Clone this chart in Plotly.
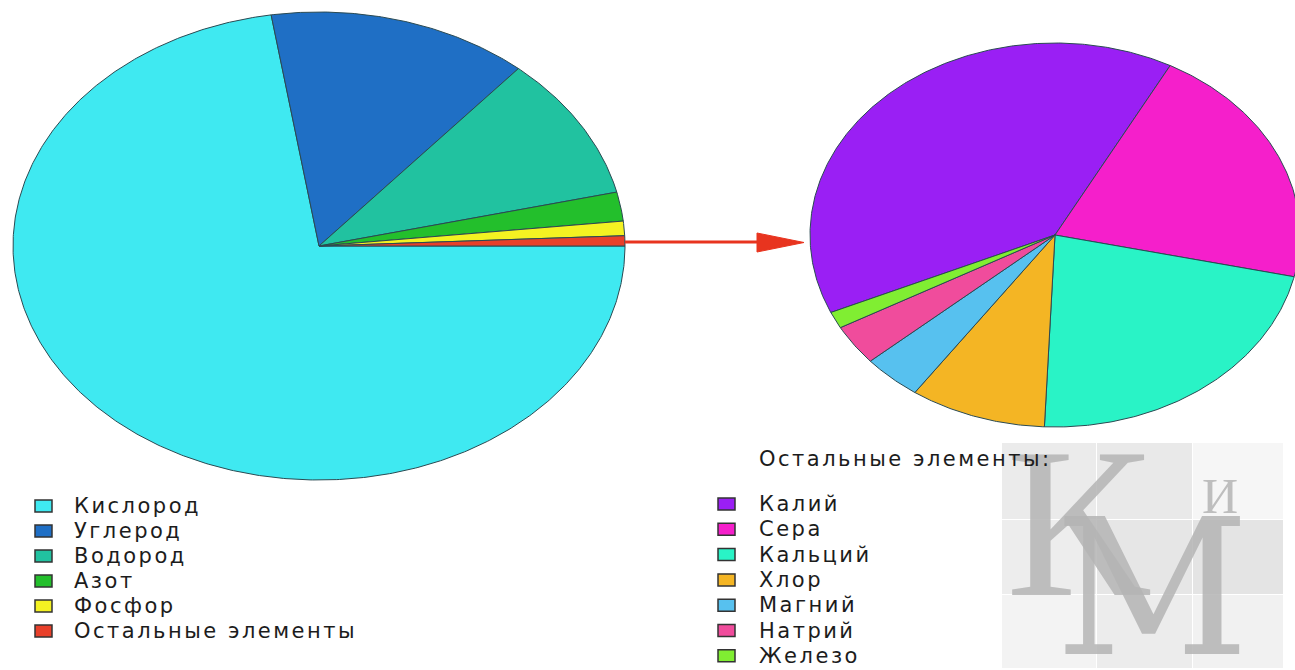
import numpy as np
import plotly.graph_objects as go

# ---------------- data ----------------
main_names = ["Кислород", "Углерод", "Водород", "Азот", "Фосфор", "Остальные элементы"]
main_values = [72.5, 13.8, 10.0, 2.0, 1.0, 0.7]
main_colors = ["#3FE9F1", "#1F6FC5", "#21C2A0", "#23BF2C", "#F4F222", "#E8402A"]

rest_title = "Остальные элементы:"
rest_names = ["Калий", "Сера", "Кальций", "Хлор", "Магний", "Натрий", "Железо"]
rest_values = [39.4, 20.7, 22.2, 9.0, 3.9, 3.4, 1.4]
rest_colors = ["#9A1FF4", "#F51FCB", "#29F3C6", "#F4B524", "#57C1EF", "#F04C9C", "#80EE32"]

# ---------------- layout constants ----------------
W, H = 1295, 670
LEFT_PIE = dict(cx=319, cy=246, rx=306, ry=234, start=0.0)
RIGHT_PIE = dict(cx=1055, cy=235, rx=245, ry=192, start=203.8)
EDGE = "#2A4A52"
FONT = "DejaVu Sans"
TXT = "#1C1C1C"
TXT_SIZE = 21
SPACING = "letter-spacing:2.5px"

fig = go.Figure()


def add_pie(names, values, colors, p):
    vals = np.asarray(values, dtype=float)
    fr = vals / vals.sum()
    ang = p["start"]
    for name, f, c, v in zip(names, fr, colors, vals):
        a0, a1 = ang, ang - f * 360.0  # clockwise
        n = max(4, int(abs(a1 - a0) * 2))
        t = np.radians(np.linspace(a0, a1, n))
        xs = np.concatenate([[p["cx"]], p["cx"] + p["rx"] * np.cos(t), [p["cx"]]])
        ys = np.concatenate([[p["cy"]], p["cy"] - p["ry"] * np.sin(t), [p["cy"]]])
        fig.add_trace(go.Scatter(
            x=xs, y=ys, mode="lines", fill="toself", fillcolor=c,
            line=dict(color=EDGE, width=1), name=name, showlegend=False,
            hoveron="fills", hoverinfo="text", text=f"{name}: {v}%",
        ))
        ang = a1


add_pie(main_names, main_values, main_colors, LEFT_PIE)
add_pie(rest_names, rest_values, rest_colors, RIGHT_PIE)

shapes = []
annotations = []

# ---------------- watermark (below everything) ----------------
cell_x = [(1002, 1096), (1097, 1192), (1193, 1283)]
cell_y = [(443, 519), (520, 594), (595, 668)]
cell_fill = [["#EBEBEB", "#E9E9E9", "#F6F6F6"],
             ["#EDEDED", "#E6E6E6", "#E4E4E4"],
             ["#F3F3F3", "#ECECEC", "#F1F1F1"]]
for r, (y0, y1) in enumerate(cell_y):
    for cidx, (x0, x1) in enumerate(cell_x):
        shapes.append(dict(type="rect", xref="x", yref="y", x0=x0, x1=x1, y0=y0, y1=y1,
                           fillcolor=cell_fill[r][cidx], line=dict(width=0), layer="below"))
WM = "rgba(180,180,180,0.85)"
annotations.append(dict(x=1078, y=522, xref="x", yref="y", text="К", showarrow=False,
                        font=dict(family="Liberation Serif", size=215, color=WM),
                        xanchor="center", yanchor="middle"))
annotations.append(dict(x=1152, y=588, xref="x", yref="y", text="М", showarrow=False,
                        font=dict(family="DejaVu Serif", size=190, color=WM),
                        xanchor="center", yanchor="middle"))
annotations.append(dict(x=1220, y=496, xref="x", yref="y", text="И", showarrow=False,
                        font=dict(family="Liberation Serif", size=50, color=WM),
                        xanchor="center", yanchor="middle"))

# ---------------- arrow ----------------
ARROW = "#E8341F"
shapes.append(dict(type="line", xref="x", yref="y", x0=LEFT_PIE["cx"] + LEFT_PIE["rx"], y0=242,
                   x1=760, y1=242, line=dict(color=ARROW, width=3)))
shapes.append(dict(type="path", xref="x", yref="y", path="M 757 233 L 804 242.5 L 757 252 Z",
                   fillcolor=ARROW, line=dict(color=ARROW, width=1)))


# ---------------- legends ----------------
def add_legend(names, colors, sq_x, txt_x, y0, dy):
    for i, (nm, c) in enumerate(zip(names, colors)):
        y = y0 + i * dy
        shapes.append(dict(type="rect", xref="x", yref="y", x0=sq_x, x1=sq_x + 17,
                           y0=y - 6, y1=y + 6, fillcolor=c,
                           line=dict(color="#333333", width=1.5)))
        annotations.append(dict(x=txt_x, y=y, xref="x", yref="y",
                                text=f"<span style='{SPACING}'>{nm}</span>",
                                showarrow=False, xanchor="left", yanchor="middle",
                                font=dict(family=FONT, size=TXT_SIZE, color=TXT)))


add_legend(main_names, main_colors, 35, 72, 506, 25)
add_legend(rest_names, rest_colors, 718, 757, 504, 25.3)
annotations.append(dict(x=757, y=459, xref="x", yref="y",
                        text=f"<span style='{SPACING}'>{rest_title}</span>",
                        showarrow=False, xanchor="left", yanchor="middle",
                        font=dict(family=FONT, size=TXT_SIZE, color=TXT)))

fig.update_layout(
    width=W, height=H, margin=dict(l=0, r=0, t=0, b=0),
    paper_bgcolor="white", plot_bgcolor="white",
    xaxis=dict(range=[0, W], visible=False, fixedrange=True),
    yaxis=dict(range=[H, 0], visible=False, fixedrange=True),
    shapes=shapes, annotations=annotations, showlegend=False,
)

fig.write_html("out.html")
